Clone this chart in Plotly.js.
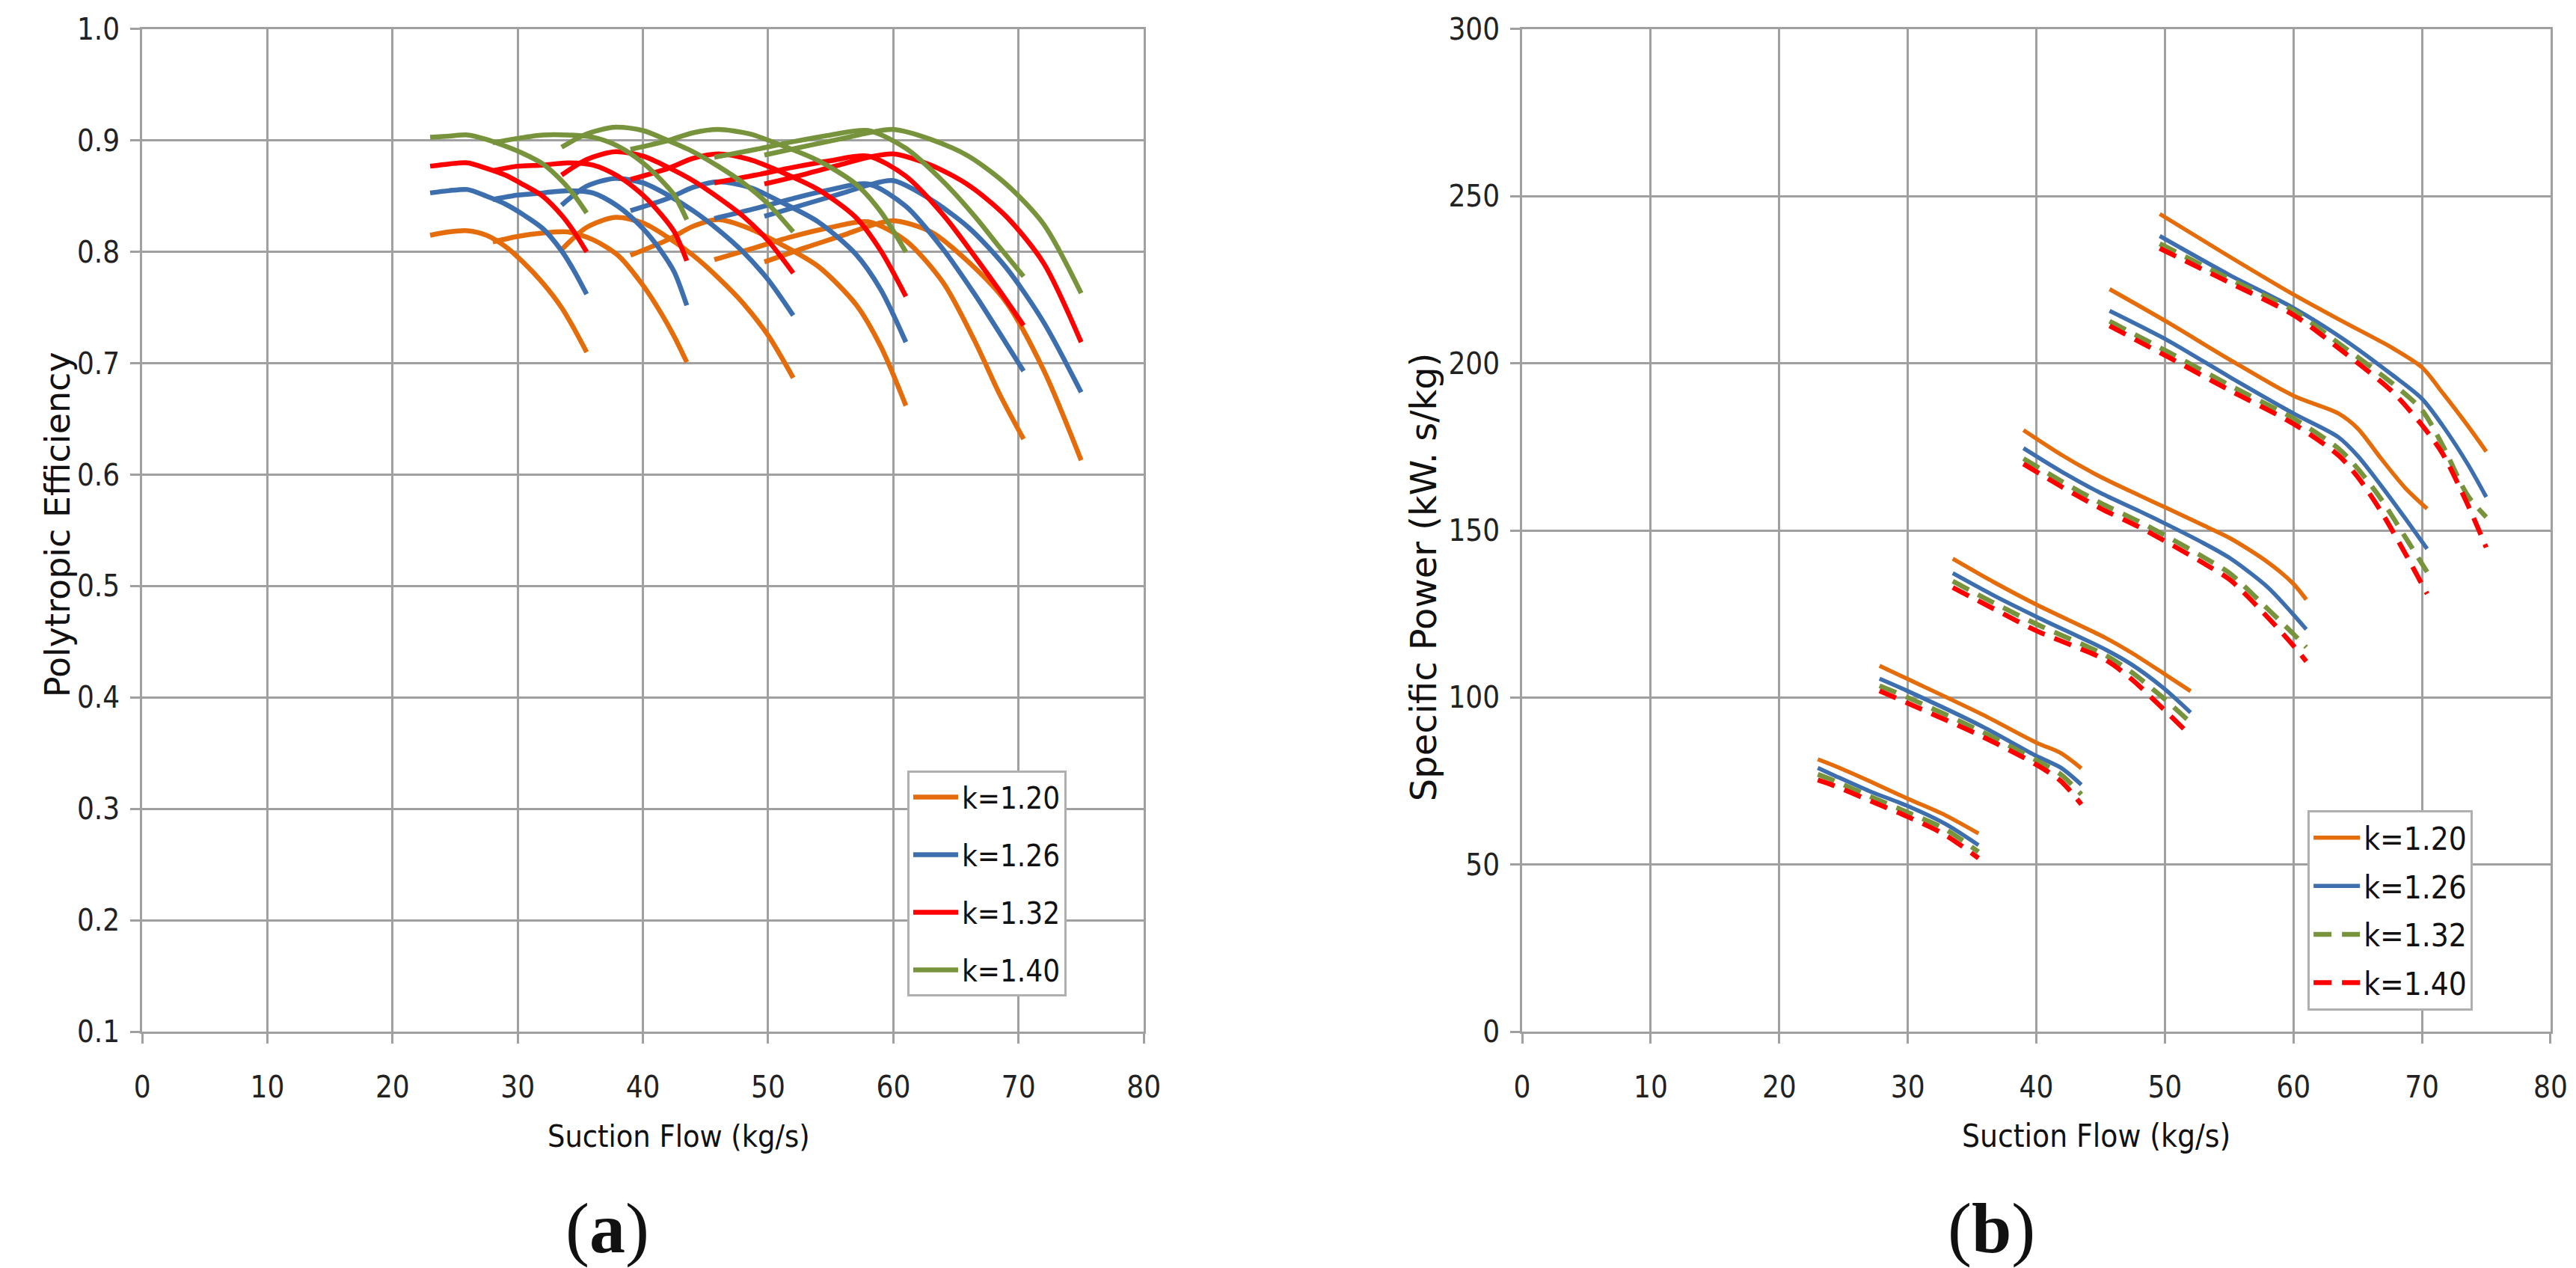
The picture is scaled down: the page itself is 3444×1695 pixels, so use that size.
<!DOCTYPE html>
<html>
<head>
<meta charset="utf-8">
<script src="https://cdn.plot.ly/plotly-3.0.1.min.js"></script>
<style>
  html, body { margin: 0; padding: 0; background: #fff; }
  #chart { width: 3444px; height: 1695px; }
</style>
</head>
<body>
<div id="chart"></div>
<script>
const kLabels = ["k=1.20", "k=1.26", "k=1.32", "k=1.40"];

// (a) polytropic efficiency: six speed lines per k, same flow points for every k
const effFlow = [
  [23, 24.5, 26, 27.5, 29, 30.5, 32, 33.5, 34.5, 35.5],
  [28, 30, 32, 34, 36, 38, 40, 41.5, 42.5, 43.5],
  [33.5, 35.5, 37.8, 40, 42, 44, 46, 48, 50, 52],
  [39, 42, 44, 46, 48.5, 51, 54, 57, 59, 61],
  [45.7, 49, 52, 55, 58, 61, 64, 66.5, 68.5, 70.4],
  [49.7, 53, 56, 58, 60, 63, 66, 69, 72, 75],
];
const effK120 = [
  [0.815, 0.818, 0.819, 0.815, 0.805, 0.790, 0.772, 0.750, 0.731, 0.710],
  [0.809, 0.814, 0.817, 0.818, 0.811, 0.797, 0.770, 0.744, 0.724, 0.701],
  [0.802, 0.822, 0.831, 0.826, 0.813, 0.797, 0.777, 0.754, 0.725, 0.687],
  [0.797, 0.811, 0.823, 0.829, 0.821, 0.807, 0.787, 0.753, 0.715, 0.662],
  [0.793, 0.804, 0.814, 0.822, 0.827, 0.810, 0.772, 0.720, 0.672, 0.632],
  [0.791, 0.804, 0.815, 0.823, 0.828, 0.818, 0.791, 0.755, 0.694, 0.613],
];
const effK126 = [
  [0.853, 0.855, 0.856, 0.850, 0.843, 0.833, 0.821, 0.801, 0.783, 0.762],
  [0.847, 0.851, 0.853, 0.855, 0.853, 0.841, 0.821, 0.800, 0.782, 0.752],
  [0.842, 0.859, 0.866, 0.862, 0.851, 0.837, 0.820, 0.800, 0.775, 0.743],
  [0.837, 0.848, 0.858, 0.863, 0.858, 0.845, 0.827, 0.798, 0.766, 0.719],
  [0.830, 0.839, 0.848, 0.856, 0.861, 0.841, 0.802, 0.762, 0.727, 0.693],
  [0.832, 0.843, 0.853, 0.860, 0.864, 0.847, 0.822, 0.786, 0.737, 0.674],
];
const effK132 = [
  [0.877, 0.879, 0.880, 0.875, 0.869, 0.860, 0.850, 0.833, 0.818, 0.800],
  [0.873, 0.877, 0.878, 0.880, 0.878, 0.868, 0.851, 0.833, 0.818, 0.792],
  [0.869, 0.883, 0.890, 0.886, 0.876, 0.864, 0.849, 0.832, 0.810, 0.781],
  [0.865, 0.875, 0.884, 0.888, 0.883, 0.872, 0.856, 0.831, 0.801, 0.760],
  [0.862, 0.869, 0.876, 0.882, 0.886, 0.868, 0.833, 0.796, 0.765, 0.734],
  [0.861, 0.870, 0.879, 0.885, 0.888, 0.878, 0.860, 0.832, 0.790, 0.719],
];
const effK140 = [
  [0.903, 0.904, 0.905, 0.901, 0.895, 0.888, 0.879, 0.864, 0.851, 0.835],
  [0.898, 0.902, 0.905, 0.905, 0.903, 0.895, 0.880, 0.864, 0.851, 0.829],
  [0.894, 0.906, 0.912, 0.909, 0.900, 0.890, 0.877, 0.862, 0.843, 0.818],
  [0.892, 0.900, 0.907, 0.910, 0.906, 0.896, 0.882, 0.861, 0.836, 0.800],
  [0.885, 0.892, 0.899, 0.905, 0.909, 0.893, 0.863, 0.832, 0.804, 0.778],
  [0.887, 0.895, 0.902, 0.907, 0.910, 0.901, 0.886, 0.861, 0.825, 0.763],
];

// (b) specific power, kW.s/kg
const powFlow = [
  [23, 24.2, 27, 30, 32.9, 35.5],
  [27.8, 30, 35.8, 40, 41.9, 43.5],
  [33.5, 36.7, 40.1, 45.4, 47.4, 49.9, 52],
  [39, 42, 45, 48, 50.25, 53, 55.1, 58, 60, 61],
  [45.7, 50.25, 55, 60, 63.5, 65, 66.8, 68.7, 70.4],
  [49.6, 55, 60, 63.8, 67.7, 70, 71.6, 73.55, 75],
];
const powK120 = [
  [81.5, 79.7, 75.0, 69.7, 64.8, 59.3],
  [109.5, 105.5, 94.9, 86.5, 83.4, 78.8],
  [141.5, 134.5, 127.6, 117.8, 113.4, 107.2, 101.9],
  [180.0, 172.5, 166.0, 160.5, 156.5, 151.5, 147.6, 140.5, 134.0, 129.3],
  [222.2, 212.2, 201.2, 190.3, 185.0, 180.5, 171.6, 162.7, 156.5],
  [244.7, 232.0, 220.6, 212.6, 204.6, 198.8, 191.2, 181.4, 173.6],
];
const powK126 = [
  [78.9, 76.8, 72.0, 67.5, 62.2, 55.8],
  [105.6, 101.9, 91.3, 82.5, 79.0, 73.9],
  [137.2, 130.5, 124.0, 114.3, 109.9, 102.8, 95.5],
  [174.6, 167.5, 161.2, 155.8, 151.6, 146.2, 141.6, 133.0, 124.8, 120.4],
  [215.7, 206.8, 196.0, 185.0, 177.9, 172.3, 163.5, 153.6, 144.5],
  [238.1, 226.5, 216.6, 207.5, 196.5, 189.4, 181.4, 169.9, 160.0],
];
const powK132 = [
  [77.0, 75.2, 70.5, 65.6, 60.6, 53.8],
  [103.5, 100.0, 89.7, 81.2, 77.0, 71.0],
  [134.8, 128.3, 121.8, 112.6, 107.6, 99.8, 92.5],
  [171.5, 164.6, 158.2, 152.6, 148.0, 142.0, 137.0, 126.5, 119.0, 115.0],
  [212.6, 203.4, 193.5, 183.5, 174.5, 168.5, 159.5, 148.0, 137.6],
  [235.8, 225.3, 215.8, 205.2, 194.0, 186.0, 175.5, 160.5, 154.0],
];
const powK140 = [
  [75.3, 73.7, 69.2, 64.3, 58.9, 51.9],
  [102.0, 98.3, 88.3, 79.9, 75.0, 68.0],
  [132.9, 126.5, 119.8, 111.2, 105.5, 96.5, 88.6],
  [169.9, 163.0, 156.6, 151.0, 146.3, 140.2, 135.1, 124.0, 115.5, 110.8],
  [211.2, 201.9, 192.0, 181.9, 172.5, 166.0, 155.8, 143.1, 131.0],
  [234.4, 224.2, 214.5, 203.7, 191.5, 181.5, 173.0, 157.8, 144.9],
];

const effColors = ["#E46C0A", "#3D6EAE", "#FF0000", "#77933C"];
const powColors = ["#E46C0A", "#3D6EAE", "#77933C", "#FF0000"];
const powDash = ["solid", "solid", "24px,14px", "24px,14px"];

const tickFont = "Liberation Sans Narrow, DejaVu Sans Condensed, Arial Narrow, sans-serif";
const titleFont = "DejaVu Sans, Verdana, sans-serif";
const gridColor = "#A0A0A0";

function buildTraces(flows, seriesByK, colors, dashes, widths, axes, legendId) {
  const traces = [];
  seriesByK.forEach((lines, k) => {
    lines.forEach((values, i) => {
      traces.push({
        x: flows[i],
        y: values,
        xaxis: axes[0],
        yaxis: axes[1],
        type: "scatter",
        mode: "lines",
        name: kLabels[k],
        legend: legendId,
        legendgroup: legendId + "-" + k,
        showlegend: i === 0,
        line: {
          color: colors[k],
          width: widths[k],
          dash: dashes[k],
          shape: "spline",
          smoothing: 0.8,
        },
        hoverinfo: "x+y+name",
      });
    });
  });
  return traces;
}

const traces = [
  ...buildTraces(effFlow, [effK120, effK126, effK132, effK140], effColors,
    ["solid", "solid", "solid", "solid"], [6.5, 6.5, 6.5, 6.5], ["x", "y"], "legend"),
  ...buildTraces(powFlow, [powK120, powK126, powK132, powK140], powColors,
    powDash, [5.5, 5.5, 6.5, 6.5], ["x2", "y2"], "legend2"),
];

function axisStyle(extra) {
  return Object.assign({
    showgrid: true,
    gridcolor: gridColor,
    gridwidth: 3,
    zeroline: false,
    showline: true,
    linecolor: gridColor,
    linewidth: 3,
    mirror: true,
    ticks: "outside",
    ticklen: 13,
    tickwidth: 3,
    tickcolor: gridColor,
    tickfont: { family: tickFont, size: 40, color: "#222" },
  }, extra);
}

function legendStyle(x, y, gap, size, itemWidth) {
  return {
    x: x,
    y: y,
    xanchor: "left",
    yanchor: "top",
    bgcolor: "#fff",
    bordercolor: "#B0B0B0",
    borderwidth: 3,
    font: { family: tickFont, size: size, color: "#111" },
    tracegroupgap: gap,
    itemwidth: itemWidth,
  };
}

function note(text, x, y, size, family, angle) {
  return {
    text: text,
    x: x,
    y: y,
    xref: "paper",
    yref: "paper",
    xanchor: "center",
    yanchor: "middle",
    showarrow: false,
    textangle: angle || 0,
    font: { family: family, size: size, color: "#111" },
  };
}

const layout = {
  width: 3444,
  height: 1695,
  margin: { l: 0, r: 0, t: 0, b: 0 },
  paper_bgcolor: "#fff",
  plot_bgcolor: "#fff",
  showlegend: true,
  xaxis: axisStyle({ domain: [0.0552, 0.444], range: [0, 80], dtick: 10, anchor: "y", ticklabelstandoff: 24 }),
  yaxis: axisStyle({ domain: [0.1864, 0.977], range: [0.1, 1.0], tick0: 0, dtick: 0.1, tickformat: ".1f", anchor: "x", ticklabelstandoff: 6 }),
  xaxis2: axisStyle({ domain: [0.5909, 0.9901], range: [0, 80], dtick: 10, anchor: "y2", ticklabelstandoff: 24 }),
  yaxis2: axisStyle({ domain: [0.1864, 0.977], range: [0, 300], dtick: 50, anchor: "x2", ticklabelstandoff: 6 }),
  legend: legendStyle(0.3522, 0.3923, 22, 40, 60),
  legend2: legendStyle(0.8958, 0.3611, 7, 42, 62),
  annotations: [
    note("Suction Flow (kg/s)", 0.2634, 0.104, 41, tickFont),
    note("Suction Flow (kg/s)", 0.8136, 0.104, 42, tickFont),
    note("Polytropic Efficiency", 0.0224, 0.5864, 46, titleFont, -90),
    note("Specific Power (kW. s/kg)", 0.5526, 0.5451, 48, titleFont, -90),
    note("(<b>a</b>)", 0.2358, 0.0313, 96, "Liberation Serif, Times New Roman, serif"),
    note("(<b>b</b>)", 0.7732, 0.0313, 96, "Liberation Serif, Times New Roman, serif"),
  ],
};

const config = {
  responsive: false,
  displaylogo: false,
  displayModeBar: false,
  staticPlot: true,
};

Plotly.newPlot("chart", traces, layout, config);
</script>
</body>
</html>
